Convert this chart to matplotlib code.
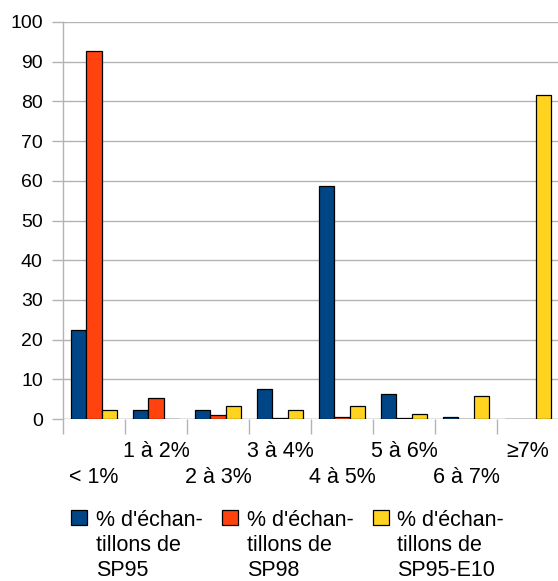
import matplotlib
matplotlib.use("Agg")
import matplotlib.pyplot as plt
from matplotlib.patches import Rectangle
import numpy as np

plt.rcParams['font.family'] = ['Liberation Sans', 'DejaVu Sans']

categories = ["< 1%", "1 à 2%", "2 à 3%", "3 à 4%", "4 à 5%", "5 à 6%", "6 à 7%", "≥7%"]
sp95 = [22.5, 2.3, 2.3, 7.5, 58.7, 6.2, 0.6, 0.0]
sp98 = [92.8, 5.2, 0.9, 0.2, 0.6, 0.2, 0.0, 0.0]
sp95_e10 = [2.3, 0.0, 3.4, 2.3, 3.4, 1.2, 5.7, 81.6]
series_labels = [["% d'échan-", "tillons de", "SP95"],
                 ["% d'échan-", "tillons de", "SP98"],
                 ["% d'échan-", "tillons de", "SP95-E10"]]
colors = ["#004586", "#ff420e", "#ffd320"]
yticks = list(range(0, 101, 10))

W, H = 558, 581
fig = plt.figure(figsize=(W / 100, H / 100), dpi=100)
ax = fig.add_axes([63 / W, (H - 419) / H, (W - 63) / W, (419 - 22) / H])

n = len(categories)
cat_px = 62.0
ax.set_xlim(0, (W - 63) / cat_px)
ax.set_ylim(0, 100)

bw = 0.25
x = np.arange(n) + 0.5
for j, (vals, c) in enumerate(zip([sp95, sp98, sp95_e10], colors)):
    ax.bar(x + (j - 1) * bw, vals, width=bw, color=c, edgecolor="black",
           linewidth=0.9, zorder=3)

# gridlines and axes styling
ax.set_yticks(yticks)
ax.yaxis.grid(True, color="#b3b3b3", linewidth=1.0, zorder=0)
for s in ["top", "right", "bottom"]:
    ax.spines[s].set_visible(False)
ax.spines["left"].set_color("#b3b3b3")
ax.spines["left"].set_linewidth(1.0)
ax.axhline(0, color="#b3b3b3", linewidth=1.0, zorder=2)
ax.tick_params(axis="y", length=8, width=1.0, color="#b3b3b3", labelsize=14, pad=6.5)
ax.set_xticks(np.arange(n))
ax.tick_params(axis="x", length=11, width=1.0, color="#b3b3b3", labelbottom=False)

# staggered category labels, centred on each category
for i, lab in enumerate(categories):
    base_px = 457 if i % 2 == 1 else 483
    xf = ax.transData.transform((x[i], 0))[0] / W
    fig.text(xf, 1 - base_px / H, lab, ha="center", va="baseline", fontsize=15.5)

# legend below the plot
sq_x = [71, 222, 373]
txt_x = [96, 247, 397]
baselines = [526, 551, 576]
for sx, tx, c, lines in zip(sq_x, txt_x, colors, series_labels):
    fig.patches.append(Rectangle((sx / W, 1 - 525 / H), 16 / W, 15 / H,
                                 transform=fig.transFigure, facecolor=c,
                                 edgecolor="black", linewidth=0.9))
    for b, line in zip(baselines, lines):
        fig.text(tx / W, 1 - b / H, line, ha="left", va="baseline", fontsize=15.5)

fig.savefig("out.png", dpi=100)
